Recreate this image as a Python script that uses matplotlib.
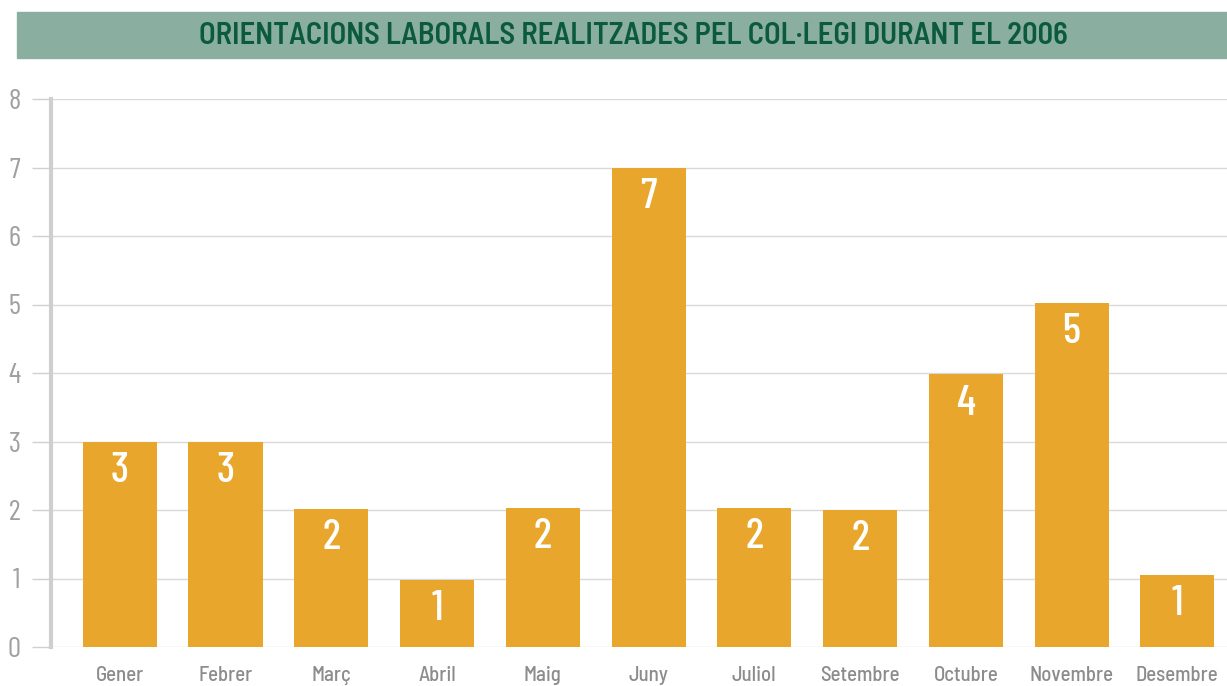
import matplotlib.pyplot as plt
from matplotlib.patches import Rectangle

# --- dades ---
mesos = ['Gener', 'Febrer', 'Març', 'Abril', 'Maig', 'Juny', 'Juliol',
         'Setembre', 'Octubre', 'Novembre', 'Desembre']
valors = [3, 3, 2.02, 0.98, 2.03, 7, 2.03, 2.0, 3.98, 5.02, 1.05]
etiquetes = ['3', '3', '2', '1', '2', '7', '2', '2', '4', '5', '1']
yticks = [0, 1, 2, 3, 4, 5, 6, 7, 8]
titol = 'ORIENTACIONS LABORALS REALITZADES PEL COL·LEGI DURANT EL 2006'

TARONJA = '#E9A62D'
GRIS_TXT = '#8c8c8c'
COND = ['Barlow Condensed', 'DejaVu Sans']
SEMI = ['Barlow Semi Condensed', 'DejaVu Sans']

fig = plt.figure(figsize=(12.27, 6.86), dpi=100)

# barra del títol
fig.patches.append(Rectangle((17 / 1227, 1 - 58 / 686), 1 - 17 / 1227, 46 / 686,
                             transform=fig.transFigure, color='#8AAE9F', zorder=0))
fig.text(633 / 1227, 1 - 36 / 686, titol, ha='center', va='center',
         fontsize=22, fontweight='semibold', color='#0B5A3E', family=SEMI)

ax = fig.add_axes([51 / 1227, 1 - 647 / 686, 1 - 51 / 1227, 548 / 686])
x = range(len(mesos))
bars = ax.bar(x, valors, width=0.7, color=TARONJA, zorder=3)

for b, lab in zip(bars, etiquetes):
    ax.annotate(lab, (b.get_x() + b.get_width() / 2, b.get_height()),
                xytext=(0, -21), textcoords='offset points', ha='center', va='center',
                color='white', fontsize=31, fontweight='medium', family=COND)

ax.set_xlim(-0.65, 10.47)
ax.set_ylim(0, 8)
ax.set_yticks(yticks)
ax.set_xticks(list(x))
ax.set_xticklabels(mesos, fontsize=15, fontweight='medium', color=GRIS_TXT, family=SEMI)
ax.set_yticklabels([str(t) for t in yticks], fontsize=21, fontweight='normal',
                   color='#a0a0a0', family=COND)
ax.tick_params(axis='x', length=0, pad=14)
ax.tick_params(axis='y', length=14, width=1, color='#d0d0d0', pad=8)

ax.grid(axis='y', color='#d9d9d9', linewidth=1, zorder=0)
for s in ['top', 'right', 'bottom']:
    ax.spines[s].set_visible(False)
ax.spines['left'].set_color('#cfcfcf')
ax.spines['left'].set_linewidth(3)

fig.savefig('out.png', dpi=100)
